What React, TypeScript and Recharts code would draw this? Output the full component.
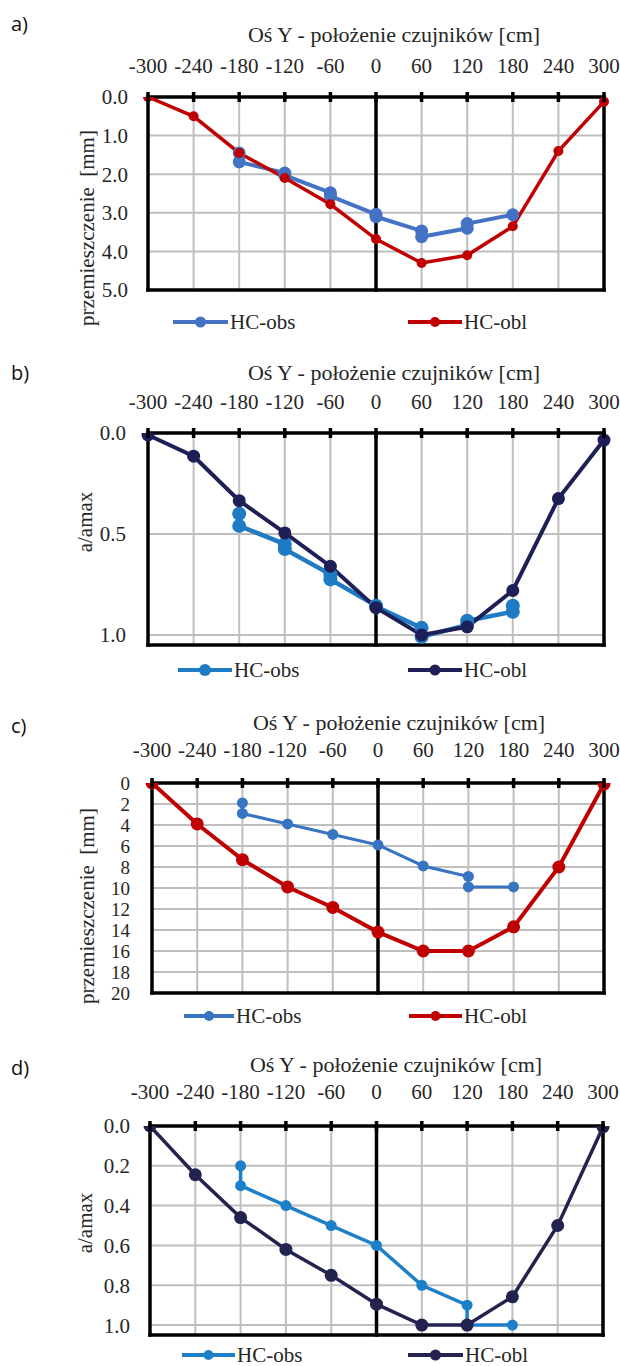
import React from 'react';
import { LineChart, Line, XAxis, YAxis, CartesianGrid, ReferenceLine, Legend } from 'recharts';

// ---------- data ----------
const sensorPositions = [-300, -240, -180, -120, -60, 0, 60, 120, 180, 240, 300];
const xTickLabels = [-300, -240, -180, -120, -60, 0, 60, 120, 180, 240, 300];
const titleText = 'Oś Y - położenie czujników [cm]';
const seriesNames = ['HC-obs', 'HC-obl'];

// a)
const aOblValues = [0, 0.5, 1.45, 2.1, 2.78, 3.68, 4.3, 4.1, 3.35, 1.4, 0.12];
const aObsX = [-180, -180, -120, -120, -60, -60, 0, 0, 60, 60, 120, 120, 180];
const aObsValues = [1.45, 1.68, 1.97, 2.03, 2.48, 2.57, 3.04, 3.1, 3.47, 3.62, 3.4, 3.28, 3.05];
const aYTicks = [0, 1, 2, 3, 4, 5];

// b)
const bOblValues = [0.01, 0.115, 0.335, 0.495, 0.66, 0.865, 1.0, 0.96, 0.78, 0.325, 0.035];
const bObsX = [-180, -180, -120, -120, -60, -60, 0, 0, 60, 60, 120, 120, 180, 180];
const bObsValues = [0.4, 0.46, 0.55, 0.575, 0.7, 0.725, 0.855, 0.86, 0.965, 1.01, 0.95, 0.93, 0.885, 0.855];
const bYTicks = [0, 0.5, 1.0];

// c)
const cOblValues = [0, 3.9, 7.3, 9.9, 11.85, 14.2, 16.0, 16.0, 13.7, 8.0, 0.1];
const cObsX = [-180, -180, -120, -60, 0, 60, 120, 120, 180];
const cObsValues = [1.9, 2.9, 3.9, 4.9, 5.9, 7.9, 8.9, 9.9, 9.9];
const cYTicks = [0, 2, 4, 6, 8, 10, 12, 14, 16, 18, 20];

// d)
const dOblValues = [0, 0.245, 0.46, 0.62, 0.75, 0.895, 1.0, 1.0, 0.858, 0.5, 0.005];
const dObsX = [-180, -180, -120, -60, 0, 60, 120, 120, 180];
const dObsValues = [0.2, 0.3, 0.4, 0.5, 0.6, 0.8, 0.9, 1.0, 1.0];
const dYTicks = [0, 0.2, 0.4, 0.6, 0.8, 1.0];

const toRows = (xs: number[], ys: number[]) => xs.map((x, i) => ({ x, y: ys[i] }));

// ---------- styles ----------
const SERIF = '"Liberation Serif", "Times New Roman", serif';
const FS = 21;
const TITLE_FS = 22;
const TEXT = '#262626';

const panels = [
  {
    letter: 'a)', top: 0, height: 340,
    plot: { left: 148, right: 604, top: 97, bottom: 290 },
    yDomain: [0, 5], yTicks: aYTicks, yDigits: 1, yLabel: 'przemieszczenie  [mm]', tickMargin: 20, yFs: 21,
    letterY: 24, titleX: 394, titleY: 35, tickAbove: 31,
    yLabelX: 87, yLabelY: 228, legendY: 322,
    obs: toRows(aObsX, aObsValues), obl: toRows(sensorPositions, aOblValues),
    obsColor: '#4472C4', oblColor: '#C00000',
    obsW: 4, oblW: 3.5, obsR: 6.5, oblR: 5,
    legend: [{ x1: 173, x2: 228, r: 5.5 }, { x1: 408, x2: 462, r: 5 }],
  },
  {
    letter: 'b)', top: 330, height: 360,
    plot: { left: 148, right: 604, top: 103, bottom: 315 },
    yDomain: [0, 1.05], yTicks: bYTicks, yDigits: 1, yLabel: 'a/amax', tickMargin: 22, yFs: 21,
    letterY: 43, titleX: 394, titleY: 43, tickAbove: 31,
    yLabelX: 85, yLabelY: 192, legendY: 340,
    obs: toRows(bObsX, bObsValues), obl: toRows(sensorPositions, bOblValues),
    obsColor: '#1F7BC4', oblColor: '#1F1F58',
    obsW: 4.5, oblW: 4, obsR: 7, oblR: 6.5,
    legend: [{ x1: 178, x2: 232, r: 6 }, { x1: 408, x2: 462, r: 5.5 }],
  },
  {
    letter: 'c)', top: 660, height: 380,
    plot: { left: 152, right: 604, top: 123, bottom: 333 },
    yDomain: [0, 20], yTicks: cYTicks, yDigits: 0, yLabel: 'przemieszczenie  [mm]', tickMargin: 22, yFs: 19,
    letterY: 66, titleX: 399, titleY: 63, tickAbove: 33,
    yLabelX: 87, yLabelY: 246, legendY: 356,
    obs: toRows(cObsX, cObsValues), obl: toRows(sensorPositions, cOblValues),
    obsColor: '#3874C2', oblColor: '#C00000',
    obsW: 3, oblW: 4, obsR: 5.5, oblR: 6.5,
    legend: [{ x1: 184, x2: 234, r: 5 }, { x1: 409, x2: 462, r: 5 }],
  },
  {
    letter: 'd)', top: 1010, height: 356,
    plot: { left: 150, right: 603, top: 116, bottom: 325 },
    yDomain: [0, 1.05], yTicks: dYTicks, yDigits: 1, yLabel: 'a/amax', tickMargin: 20, yFs: 21,
    letterY: 58, titleX: 396, titleY: 55, tickAbove: 34,
    yLabelX: 85, yLabelY: 213, legendY: 345,
    obs: toRows(dObsX, dObsValues), obl: toRows(sensorPositions, dOblValues),
    obsColor: '#1E7FC9', oblColor: '#23234F',
    obsW: 3.5, oblW: 3.5, obsR: 5.5, oblR: 6.5,
    legend: [{ x1: 182, x2: 235, r: 5 }, { x1: 408, x2: 463, r: 5.5 }],
  },
];

const XTick = (props: any) => {
  const { x, y, payload, tickAbove } = props;
  return (
    <g>
      <line x1={x} x2={x} y1={y - 5} y2={y + 5} stroke="#000" strokeWidth={3.5} />
      <text x={x} y={y - tickAbove + 7} textAnchor="middle" fontSize={FS} style={{ fontFamily: SERIF }} fill={TEXT}>
        {payload.value}
      </text>
    </g>
  );
};

function Panel({ cfg }: { cfg: any }) {
  const W = 620;
  const { plot } = cfg;
  const margin = { top: plot.top - 30, left: plot.left - 40, right: W - plot.right, bottom: cfg.height - plot.bottom };
  const frame = { stroke: '#000', strokeWidth: 3.5, strokeLinecap: 'square' as const };

  const renderLegend = (p: any) => {
    const payload = p.payload || [];
    return (
      <div style={{ position: 'relative', width: W, height: 28 }}>
        {payload.map((e: any) => {
          const idx = seriesNames.indexOf(e.value);
          const it = cfg.legend[idx < 0 ? 0 : idx];
          const w = it.x2 - it.x1;
          return (
            <div key={e.value} style={{ position: 'absolute', left: it.x1, top: 0, height: 28, display: 'flex', alignItems: 'center' }}>
              <svg width={w} height={28} style={{ display: 'block' }}>
                <line x1={0} x2={w} y1={14} y2={14} stroke={e.color} strokeWidth={4} />
                <circle cx={w / 2} cy={14} r={it.r} fill={e.color} />
              </svg>
              <span style={{ marginLeft: 2, fontFamily: SERIF, fontSize: FS, color: TEXT, lineHeight: '28px' }}>{e.value}</span>
            </div>
          );
        })}
      </div>
    );
  };

  return (
    <div style={{ position: 'absolute', left: 0, top: cfg.top, width: W, height: cfg.height }}>
      <div style={{ position: 'absolute', left: 11, top: cfg.letterY, transform: 'translateY(-50%)', fontFamily: '"Open Sans", sans-serif', fontSize: 20, lineHeight: 1, color: '#111' }}>
        {cfg.letter}
      </div>
      <div style={{ position: 'absolute', left: cfg.titleX, top: cfg.titleY, transform: 'translate(-50%, -50%)', fontFamily: SERIF, fontSize: TITLE_FS, lineHeight: 1, color: TEXT, whiteSpace: 'pre' }}>
        {titleText}
      </div>
      <div style={{ position: 'absolute', left: cfg.yLabelX, top: cfg.yLabelY, transform: 'translate(-50%, -50%) rotate(-90deg)', fontFamily: SERIF, fontSize: FS, lineHeight: 1, color: TEXT, whiteSpace: 'pre' }}>
        {cfg.yLabel}
      </div>
      <div style={{ position: 'absolute', left: 0, top: 0 }}>
        <LineChart width={W} height={cfg.height} margin={margin}>
          <CartesianGrid stroke="#BFBFBF" strokeWidth={2} />
          <XAxis
            type="number" dataKey="x" orientation="top" height={30}
            domain={[-300, 300]} ticks={xTickLabels} interval={0}
            axisLine={false} tickLine={false} tickSize={0} tickMargin={0}
            tick={(p: any) => <XTick {...p} tickAbove={cfg.tickAbove} />}
          />
          <YAxis
            type="number" reversed domain={cfg.yDomain} ticks={cfg.yTicks} interval={0} width={40}
            axisLine={false} tickLine={false} tickSize={0} tickMargin={cfg.tickMargin}
            tickFormatter={(v: number) => v.toFixed(cfg.yDigits)}
            tick={{ fontSize: cfg.yFs, style: { fontFamily: SERIF }, fill: TEXT }}
            allowDataOverflow
          />
          <ReferenceLine x={-300} {...frame} />
          <ReferenceLine x={300} {...frame} />
          <ReferenceLine x={0} {...frame} />
          <ReferenceLine y={cfg.yDomain[0]} {...frame} />
          <ReferenceLine y={cfg.yDomain[1]} {...frame} />
          <Legend layout="vertical" align="center" verticalAlign="middle" content={renderLegend}
            wrapperStyle={{ position: 'absolute', left: 0, top: cfg.legendY - 14, width: W, height: 28 }} />
          <Line data={cfg.obs} dataKey="y" name={seriesNames[0]} type="linear" stroke={cfg.obsColor} strokeWidth={cfg.obsW}
            dot={{ r: cfg.obsR, fill: cfg.obsColor, stroke: cfg.obsColor, strokeWidth: 0 }} activeDot={false} isAnimationActive={false} />
          <Line data={cfg.obl} dataKey="y" name={seriesNames[1]} type="linear" stroke={cfg.oblColor} strokeWidth={cfg.oblW}
            dot={{ r: cfg.oblR, fill: cfg.oblColor, stroke: cfg.oblColor, strokeWidth: 0 }} activeDot={false} isAnimationActive={false} />
        </LineChart>
      </div>
    </div>
  );
}

export default function App() {
  return (
    <div style={{ position: 'absolute', left: 0, top: 0, width: 620, height: 1366, background: '#fff', overflow: 'hidden' }}>
      {panels.map((p) => (
        <Panel key={p.letter} cfg={p} />
      ))}
    </div>
  );
}
